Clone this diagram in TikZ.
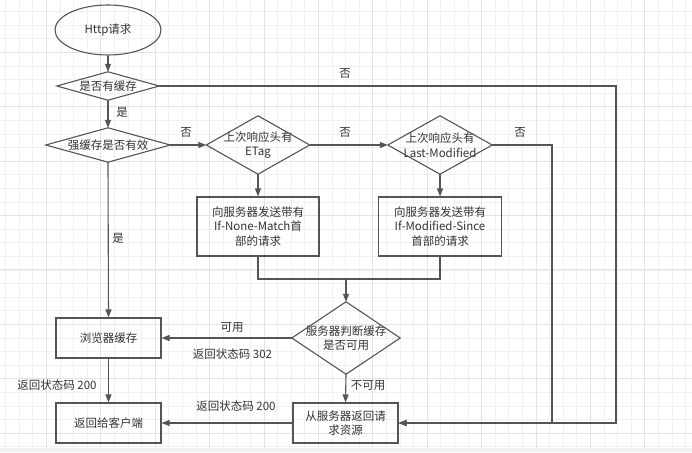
\documentclass[tikz,border=0pt]{standalone}
\usepackage{fontspec}
\setmainfont{Noto Sans CJK SC}
\usetikzlibrary{arrows.meta,shapes.geometric,calc}
\definecolor{ln}{HTML}{555555}
\definecolor{tx}{HTML}{333333}
\definecolor{gmin}{HTML}{F1F1F1}
\definecolor{gmaj}{HTML}{E4E4E4}
\definecolor{band}{HTML}{F3F3F3}
\begin{document}
\begin{tikzpicture}[x=1pt,y=-1pt,
  every node/.style={text=tx,font=\fontsize{11.5}{14.7}\selectfont},
  shapeline/.style={draw=ln,line width=1.1pt},
  box/.style={shapeline,inner sep=0pt,align=center},
  dnode/.style={inner sep=0pt,align=center},
  arr/.style={draw=ln,line width=1.1pt,-{Triangle[length=8pt,width=6pt]}},
  plain/.style={draw=ln,line width=1.1pt},
  lbl/.style={inner sep=0pt}]
% canvas
\useasboundingbox (0,0) rectangle (692,452);
\fill[white] (0,0) rectangle (692,452);
\foreach \i in {0,...,50} {\pgfmathsetmacro\gx{5.7+13.6*\i}\draw[gmin,line width=0.9pt] (\gx,0) -- (\gx,448);}
\foreach \i in {0,...,32} {\pgfmathsetmacro\gy{11.7+13.6*\i}\draw[gmin,line width=0.9pt] (0,\gy) -- (692,\gy);}
\foreach \i in {0,...,12} {\pgfmathsetmacro\gx{46.5+54.4*\i}\draw[gmaj,line width=0.9pt] (\gx,0) -- (\gx,448);}
\foreach \i in {0,...,7} {\pgfmathsetmacro\gy{52.3+54.4*\i}\draw[gmaj,line width=0.9pt] (0,\gy) -- (692,\gy);}
\fill[band] (0,448) rectangle (692,452);
% nodes
\node[shapeline,ellipse,minimum width=106pt,minimum height=50pt,inner sep=0pt] (start) at (108,30) {Http请求};
\node[dnode,minimum width=102pt,minimum height=28pt] (d1) at (108,86) {是否有缓存};
\node[dnode,minimum width=124pt,minimum height=34pt] (d2) at (108,145) {强缓存是否有效};
\node[dnode,minimum width=103pt,minimum height=58pt] (d3) at (258,145) {上次响应头有\\ETag};
\node[dnode,minimum width=104pt,minimum height=58pt] (d4) at (440,145) {上次响应头有\\Last-Modified};
\node[box,minimum width=122pt,minimum height=59pt] (b1) at (258,226.5) {向服务器发送带有\\If-None-Match首\\部的请求};
\node[box,minimum width=123pt,minimum height=59pt] (b2) at (440,226.5) {向服务器发送带有\\If-Modified-Since\\首部的请求};
\node[dnode,minimum width=108pt,minimum height=72pt] (d5) at (346,338) {服务器判断缓存\\是否可用};
\node[box,minimum width=105pt,minimum height=40pt] (cache) at (108.5,338) {浏览器缓存};
\node[box,minimum width=105pt,minimum height=40pt] (client) at (108.5,423) {返回给客户端};
\node[box,minimum width=105pt,minimum height=40pt] (srv) at (345.5,423) {从服务器返回请\\求资源};
\foreach \n in {d1,d2,d3,d4,d5}
  \draw[shapeline,line join=miter] (\n.north) -- (\n.east) -- (\n.south) -- (\n.west) -- cycle;
% coordinates
\coordinate (r1) at (616,86);
\coordinate (r2) at (552,145);
\coordinate (m) at (346,279);
% connectors
\draw[arr] (start.south) -- (d1.north);
\draw[arr] (d1.south) -- (d2.north);
\draw[arr] (d1.east) -- (r1) |- (srv.east);
\draw[arr] (d2.east) -- (d3.west);
\draw[arr] (d3.east) -- (d4.west);
\draw[arr] (d4.east) -- (r2) |- (srv.east);
\draw[arr] (d3.south) -- (b1.north);
\draw[arr] (d4.south) -- (b2.north);
\draw[plain] (b1.south) |- (m);
\draw[plain] (b2.south) |- (m);
\draw[arr] (m) -- (d5.north);
\draw[arr] (d5.west) -- (cache.east);
\draw[arr] (d2.south) -- (cache.north);
\draw[arr] (cache.south) -- (client.north);
\draw[arr] (srv.west) -- (client.east);
\draw[arr] (d5.south) -- (srv.north);
% labels
\node[lbl] (l1) at (345,73) {否};
\node[lbl] (l2) at (122,112) {是};
\node[lbl] (l3) at (186,132) {否};
\node[lbl] (l4) at (345,132) {否};
\node[lbl] (l5) at (520,132) {否};
\node[lbl] (l6) at (118,238) {是};
\node[lbl] (l7) at (232,328) {可用};
\node[lbl] (l8) at (232.5,354) {返回状态码 302};
\node[lbl] (l9) at (57,385) {返回状态码 200};
\node[lbl] (l10) at (236,406) {返回状态码 200};
\node[lbl] (l11) at (368,386) {不可用};
\end{tikzpicture}
\end{document}
